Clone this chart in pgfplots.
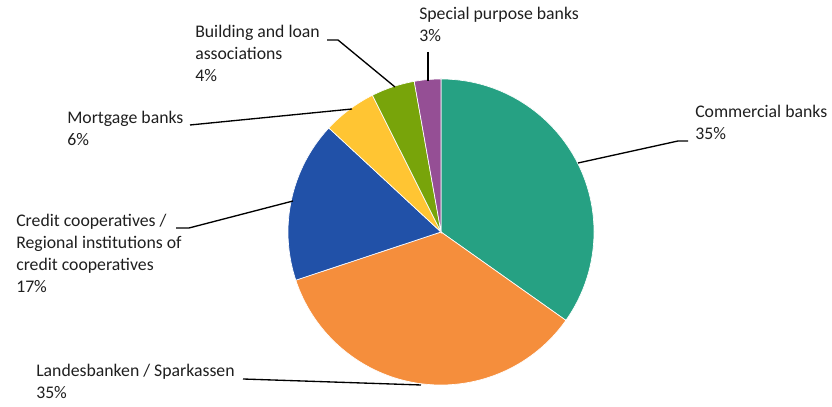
\documentclass[border=0pt]{standalone}
\usepackage{pgfplots}
\usepackage{pgfplotstable}
\pgfplotsset{compat=1.18}
\usepackage{fontspec}
\setmainfont{Carlito}
\definecolor{cTeal}{RGB}{38,161,131}
\definecolor{cOrange}{RGB}{245,142,60}
\definecolor{cBlue}{RGB}{33,81,168}
\definecolor{cYellow}{RGB}{255,197,51}
\definecolor{cGreen}{RGB}{120,164,10}
\definecolor{cPurple}{RGB}{149,79,149}
\pgfplotstableread{
idx value
0 34.8
1 35.1
2 17.0
3 5.7
4 4.6
5 2.8
}\piedata
\begin{document}
\begin{tikzpicture}
\gdef\cum{0}
\foreach \i/\n in {0/a,1/b,2/c,3/d,4/e,5/f}{%
  \pgfplotstablegetelem{\i}{value}\of\piedata
  \pgfmathsetmacro\va{90-3.6*\cum}%
  \pgfmathsetmacro\vb{90-3.6*(\cum+\pgfplotsretval)}%
  \expandafter\xdef\csname sA\n\endcsname{\va}%
  \expandafter\xdef\csname sB\n\endcsname{\vb}%
  \pgfmathsetmacro\vc{\cum+\pgfplotsretval}%
  \xdef\cum{\vc}%
}
\begin{axis}[
  x=0.75pt, y=0.75pt,
  xmin=0, xmax=832, ymin=0, ymax=402,
  hide axis, clip=false,
]
\path (axis cs:0,0) rectangle (axis cs:832,402);
\fill[cTeal,draw=white,line width=0.5pt] (axis cs:441,170) -- ++(\sAa:114.75pt) arc[start angle=\sAa, end angle=\sBa, radius=114.75pt] -- cycle;
\fill[cOrange,draw=white,line width=0.5pt] (axis cs:441,170) -- ++(\sAb:114.75pt) arc[start angle=\sAb, end angle=\sBb, radius=114.75pt] -- cycle;
\fill[cBlue,draw=white,line width=0.5pt] (axis cs:441,170) -- ++(\sAc:114.75pt) arc[start angle=\sAc, end angle=\sBc, radius=114.75pt] -- cycle;
\fill[cYellow,draw=white,line width=0.5pt] (axis cs:441,170) -- ++(\sAd:114.75pt) arc[start angle=\sAd, end angle=\sBd, radius=114.75pt] -- cycle;
\fill[cGreen,draw=white,line width=0.5pt] (axis cs:441,170) -- ++(\sAe:114.75pt) arc[start angle=\sAe, end angle=\sBe, radius=114.75pt] -- cycle;
\fill[cPurple,draw=white,line width=0.5pt] (axis cs:441,170) -- ++(\sAf:114.75pt) arc[start angle=\sAf, end angle=\sBf, radius=114.75pt] -- cycle;
% leader lines (y = 402 - pixel y)
\draw[black,line width=1pt] (axis cs:578,239) -- (axis cs:678,261) -- (axis cs:688,261);
\draw[black,line width=1pt] (axis cs:243,23) -- (axis cs:421,17);
\draw[black,line width=1pt] (axis cs:176,174) -- (axis cs:189,174) -- (axis cs:293,201);
\draw[black,line width=1pt] (axis cs:190,277) -- (axis cs:352,293);
\draw[black,line width=1pt] (axis cs:327,362) -- (axis cs:338,362) -- (axis cs:395,315);
\draw[black,line width=1pt] (axis cs:428,350) -- (axis cs:428,321);
% labels (anchored at the baseline of the last line)
\tikzset{lab/.style={anchor=base west, align=left, inner sep=0pt, text=black!88, font=\fontsize{13.3}{16.5}\selectfont}}
\node[lab] at (axis cs:695,262) {Commercial banks\\35\%};
\node[lab] at (axis cs:36,3) {Landesbanken / Sparkassen\\35\%};
\node[lab] at (axis cs:16,109) {Credit cooperatives /\\Regional institutions of\\credit cooperatives\\17\%};
\node[lab] at (axis cs:67,256) {Mortgage banks\\6\%};
\node[lab] at (axis cs:195,320) {Building and loan\\associations\\4\%};
\node[lab] at (axis cs:419,360) {Special purpose banks\\3\%};
\end{axis}
\end{tikzpicture}
\end{document}
